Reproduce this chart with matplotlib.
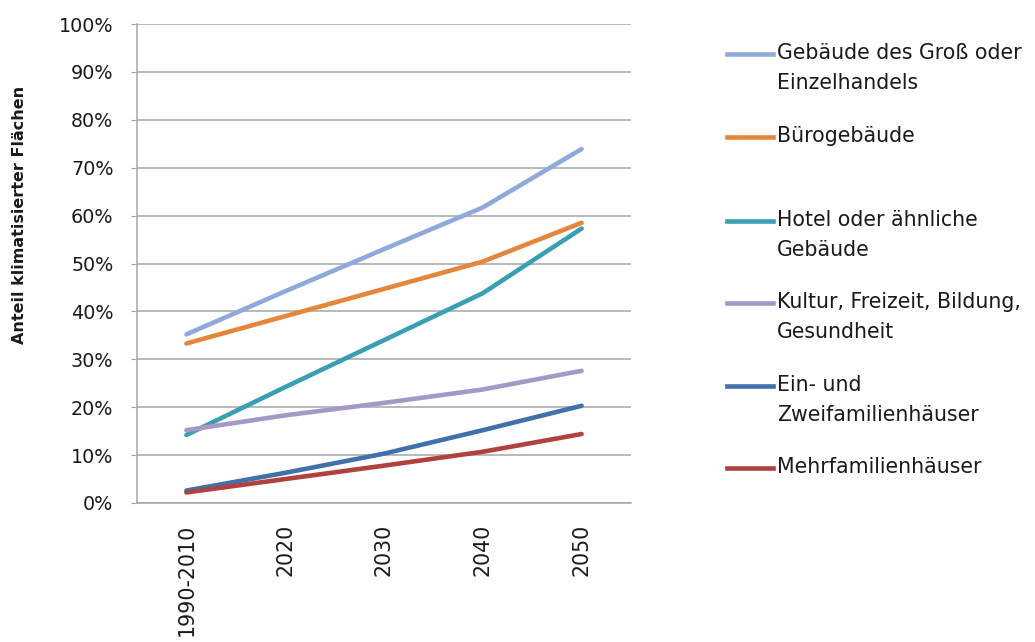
import matplotlib
matplotlib.use("Agg")
import matplotlib.pyplot as plt
from matplotlib.lines import Line2D
from matplotlib.ticker import PercentFormatter

categories = ["1990-2010", "2020", "2030", "2040", "2050"]
series_names = [
    "Gebäude des Groß oder\nEinzelhandels",
    "Bürogebäude",
    "Hotel oder ähnliche\nGebäude",
    "Kultur, Freizeit, Bildung,\nGesundheit",
    "Ein- und\nZweifamilienhäuser",
    "Mehrfamilienhäuser",
]
gross_einzelhandel = [35.2, 44.2, 53.0, 61.7, 73.9]
buero = [33.3, 39.0, 44.7, 50.4, 58.5]
hotel = [14.2, 24.2, 34.0, 43.8, 57.3]
kultur = [15.2, 18.3, 20.9, 23.7, 27.6]
ein_zwei = [2.6, 6.3, 10.3, 15.2, 20.3]
mehrfamilien = [2.2, 5.0, 7.8, 10.7, 14.4]
y_ticks = [0, 10, 20, 30, 40, 50, 60, 70, 80, 90, 100]

series = [gross_einzelhandel, buero, hotel, kultur, ein_zwei, mehrfamilien]
colors = ["#8FAADA", "#E5863C", "#3A9FB3", "#A698C6", "#4170AA", "#B0413F"]

plt.rcParams["font.family"] = ["DejaVu Sans"]

fig = plt.figure(figsize=(10.35, 6.42), dpi=100)
ax = fig.add_axes([137 / 1035, 1 - 503 / 642, (631 - 137) / 1035, (503 - 24) / 642])

x = list(range(len(categories)))
for vals, col in zip(series, colors):
    ax.plot(x, vals, color=col, lw=3.3, solid_capstyle="round", zorder=3)

ax.set_xlim(-0.5, len(categories) - 0.5)
ax.set_ylim(0, 100)
ax.set_yticks(y_ticks)
ax.yaxis.set_major_formatter(PercentFormatter(decimals=0))
ax.set_xticks(x)
ax.set_xticklabels(categories, rotation=90, va="top", ha="center")
ax.yaxis.grid(True, color="#A6A6A6", lw=1.1)
ax.set_axisbelow(True)
for s in ["top", "right"]:
    ax.spines[s].set_visible(False)
for s in ["left", "bottom"]:
    ax.spines[s].set_color("#A6A6A6")
    ax.spines[s].set_linewidth(1.1)
ax.tick_params(axis="y", length=4, color="#A6A6A6", pad=13, labelsize=13.8, labelcolor="#1a1a1a")
ax.tick_params(axis="x", length=0, pad=15, labelsize=14.8, labelcolor="#1a1a1a")

fig.text(20 / 1035, 1 - 215 / 642, "Anteil klimatisierter Flächen", rotation=90,
         ha="center", va="center", fontsize=11.5, fontweight="bold", color="#1a1a1a")

# legend (manual)
legend_y = [54, 137, 221, 303, 386, 468]
for name, col, yp in zip(series_names, colors, legend_y):
    yf = 1 - yp / 642
    fig.add_artist(Line2D([727 / 1035, 773 / 1035], [yf, yf], color=col, lw=3.3,
                          transform=fig.transFigure))
    fig.text(777 / 1035, 1 - (yp - 11) / 642, name, ha="left", va="top",
             fontsize=14.8, color="#1a1a1a", linespacing=1.65)

fig.savefig("out.png", dpi=100)
